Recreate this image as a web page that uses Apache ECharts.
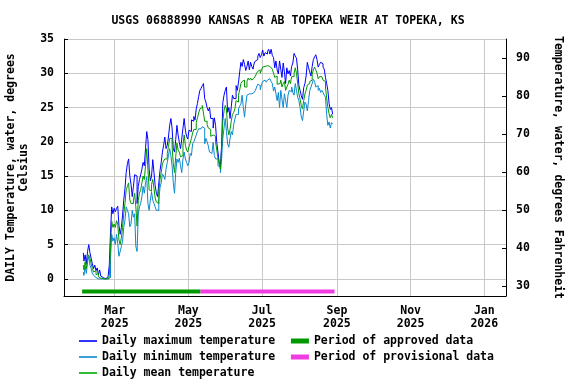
<!DOCTYPE html>
<html><head><meta charset="utf-8">
<script src="https://cdn.jsdelivr.net/npm/echarts@6/dist/echarts.min.js"></script>
<style>html,body{margin:0;padding:0;background:#fff}#c{width:576px;height:384px}</style>
</head><body><div id="c"></div>
<script>
var titleText = 'USGS 06888990 KANSAS R AB TOPEKA WEIR AT TOPEKA, KS';
var firstDay = '2025-02-03';
var maxTemp = [3.8,2.6,3.5,2.2,4.0,5.0,3.8,3.0,2.2,1.5,2.0,1.2,1.6,0.6,1.3,0.4,0.2,0.1,0.1,0.0,0.1,0.3,2.0,6.7,10.5,9.5,10.3,9.8,10.3,10.6,
7.8,6.5,7.5,9.3,11.5,13.2,15.5,16.8,17.5,15.0,13.8,12.0,13.5,15.2,15.0,11.0,13.5,14.5,15.2,16.0,17.0,16.5,19.0,21.5,20.3,16.0,14.3,15.0,17.4,15.5,
13.6,12.5,12.0,14.0,15.8,17.0,18.5,19.5,20.7,19.0,19.5,20.7,22.4,23.4,22.0,19.0,18.5,20.3,22.4,21.0,19.9,19.0,20.4,22.0,23.4,21.7,20.8,20.4,21.7,21.5,
23.2,23.0,23.7,23.2,24.8,25.6,26.6,27.5,27.8,28.2,28.5,26.3,25.8,25.0,24.5,25.0,23.4,23.4,22.0,23.5,22.4,19.9,18.5,17.0,16.5,19.4,25.7,26.8,27.5,28.0,
24.3,25.0,23.4,25.1,26.8,26.3,26.3,28.2,27.5,28.7,30.2,31.6,31.0,32.0,31.3,30.4,31.0,31.8,30.5,31.6,31.0,30.6,31.5,31.8,32.0,32.5,32.9,32.3,32.7,33.4,
32.5,33.0,32.8,33.2,33.5,32.8,33.5,32.6,32.3,30.8,31.8,30.5,29.9,31.8,30.6,29.4,31.5,30.2,28.5,30.8,29.9,30.4,29.6,31.0,31.5,32.9,32.5,32.2,30.5,28.2,
27.5,26.7,26.2,27.9,28.5,29.6,31.6,30.8,30.2,29.6,31.0,32.0,32.4,32.7,32.0,30.9,31.3,31.6,31.4,30.9,30.6,29.4,28.5,27.5,25.6,24.7,25.0,24.0];
var minTemp = [1.0,0.5,1.8,0.8,2.5,3.2,2.0,1.5,0.8,0.5,0.6,0.2,0.3,0.0,0.0,0.0,0.0,0.0,0.0,0.0,0.0,0.0,0.2,3.0,6.5,5.5,6.0,5.0,6.5,5.2,
3.3,3.2,4.7,5.5,7.5,8.6,10.5,10.0,9.5,7.6,8.0,10.0,9.0,9.5,4.7,4.0,9.5,10.5,11.0,12.0,13.5,12.5,14.0,14.9,11.0,10.0,11.5,12.7,11.5,11.0,
10.5,10.0,10.0,11.5,13.3,14.0,15.3,15.0,14.5,16.0,17.0,18.0,19.0,18.0,16.5,14.0,12.5,15.5,17.5,17.0,17.6,16.5,15.5,17.5,18.5,17.5,17.0,16.5,17.0,18.3,
18.0,19.7,20.0,20.5,21.0,21.5,21.9,21.9,22.0,22.2,22.0,19.7,20.5,20.0,19.4,18.5,18.3,18.5,19.9,18.0,17.5,17.5,16.5,16.3,15.5,17.5,20.5,22.0,23.4,21.5,
19.7,19.2,20.5,21.5,21.0,22.5,23.3,24.0,24.0,24.8,25.2,25.5,26.8,25.0,23.6,25.5,26.8,27.0,26.8,27.0,26.9,27.2,27.0,27.5,28.0,28.4,28.2,27.6,28.3,28.8,
29.0,29.1,28.7,29.0,29.2,29.0,28.8,28.5,27.4,28.0,27.0,26.0,27.2,25.0,27.5,26.2,25.0,27.0,26.0,25.0,26.8,27.5,27.3,28.0,27.2,26.8,28.5,27.5,26.5,26.0,
25.0,23.6,23.1,24.5,25.8,25.5,24.5,26.0,27.5,28.0,28.5,29.1,28.8,28.0,28.2,27.5,27.8,27.2,27.5,27.2,26.8,26.5,24.0,22.4,22.9,22.0,22.8,22.6];
var meanTemp = [2.0,1.3,2.5,1.5,3.0,3.5,3.0,2.2,1.5,1.0,1.2,0.6,0.8,0.3,0.4,0.1,0.0,0.0,0.0,0.0,0.0,0.0,0.5,4.5,8.4,7.5,8.0,7.5,8.5,8.0,
5.7,5.0,6.0,7.5,9.5,11.0,13.0,13.5,14.0,11.5,11.0,11.0,11.5,12.5,10.5,7.7,11.5,12.5,13.0,14.0,15.0,14.5,16.5,19.0,16.0,13.0,12.8,13.8,14.5,13.2,
11.8,11.2,11.0,12.8,14.5,15.5,16.8,17.2,17.5,17.5,18.3,19.3,20.5,20.5,19.3,16.8,15.5,17.8,19.8,18.8,18.5,17.8,18.0,19.5,21.0,19.5,18.8,18.5,19.3,19.8,
20.5,21.3,21.8,21.8,22.8,23.5,24.2,24.8,25.0,25.3,25.2,23.0,23.0,22.5,22.0,21.8,20.8,21.0,21.0,20.8,20.0,18.8,17.6,16.8,16.0,19.0,23.0,24.5,25.3,24.8,
22.0,21.0,21.8,23.0,24.0,24.3,24.8,26.0,25.8,26.8,27.6,28.5,28.8,29.0,28.0,28.0,28.8,29.3,29.0,29.3,29.0,28.9,29.3,29.6,30.0,30.3,30.5,30.0,30.4,30.9,
30.8,31.0,30.9,31.1,31.2,31.0,31.1,30.6,30.0,29.4,29.6,28.4,28.5,28.5,29.0,28.0,28.5,28.8,27.5,28.0,28.4,29.0,28.5,29.5,29.5,30.0,30.8,30.0,28.5,27.0,
26.2,25.3,24.8,26.0,27.0,27.5,28.3,28.5,28.8,29.0,29.8,30.5,30.9,30.5,30.0,29.2,29.5,29.4,29.5,29.0,28.8,28.0,26.4,25.0,24.1,23.5,24.0,23.5];
var approvedPeriod = ['2025-02-02', '2025-05-11'];
var provisionalPeriod = ['2025-05-11', '2025-08-30'];
var periodLevel = -1.85;
var xTickDates = ['2025-03-01','2025-05-01','2025-07-01','2025-09-01','2025-11-01','2026-01-01'];
var yTicksC = [0,5,10,15,20,25,30,35];
var yTicksF = [30,40,50,60,70,80,90];
var monthNames = ['Jan','Feb','Mar','Apr','May','Jun','Jul','Aug','Sep','Oct','Nov','Dec'];
var lineNames = ['Daily maximum temperature','Daily minimum temperature','Daily mean temperature'];
var periodNames = ['Period of approved data','Period of provisional data'];

function pad(n){return (n<10?'0':'')+n;}
function dayList(start, n){
  var p = start.split('-'); var out = [];
  for (var i=0;i<n;i++){
    var d = new Date(Date.UTC(+p[0], +p[1]-1, +p[2]+i));
    out.push(d.getUTCFullYear()+'-'+pad(d.getUTCMonth()+1)+'-'+pad(d.getUTCDate()));
  }
  return out;
}
function ts(s){var p=s.split('-');return Date.UTC(+p[0],+p[1]-1,+p[2]);}
var dates = dayList(firstDay, maxTemp.length);
function pairs(vals){return vals.map(function(v,i){return [ts(dates[i]), v];});}

var FONT = 'DejaVu Sans Mono';
var lab = {fontFamily: FONT, fontWeight: 'bold', fontSize: 11.5, color: '#000'};
var chart = echarts.init(document.getElementById('c'), null, {renderer:'canvas'});
chart.setOption({
  animation: false,
  backgroundColor: '#fff',
  title: {text: titleText, left: 'center', top: 10, textStyle: {fontFamily: FONT, fontWeight: 'bold', fontSize: 11.5, color: '#000'}},
  grid: {left: 64, right: 70, top: 39, bottom: 88, containLabel: false, outerBoundsMode: 'none'},
  xAxis: {
    type: 'value', min: ts('2025-01-18'), max: ts('2026-01-19'),
    axisLine: {show: true, onZero: false, lineStyle: {color: '#000', width: 1}},
    axisTick: {show: false, customValues: xTickDates.map(ts)},
    axisLabel: Object.assign({customValues: xTickDates.map(ts), margin: 9, lineHeight: 13,
      formatter: function(v){var d=new Date(v);return monthNames[d.getUTCMonth()]+'\n'+d.getUTCFullYear();}}, lab),
    splitLine: {show: true, lineStyle: {color: '#c8c8c8', width: 1}}
  },
  yAxis: [{
    type: 'value', min: -2.5, max: 35, position: 'left',
    name: 'DAILY Temperature, water, degrees\nCelsius', nameLocation: 'middle', nameGap: 33, nameRotate: 90, nameMoveOverlap: false,
    nameTextStyle: Object.assign({lineHeight: 13}, lab),
    axisLine: {show: true, lineStyle: {color: '#000'}},
    axisTick: {show: true, inside: true, length: 4, customValues: yTicksC, lineStyle: {color: '#000'}},
    axisLabel: Object.assign({customValues: yTicksC, margin: 10}, lab),
    splitLine: {show: true, lineStyle: {color: '#c8c8c8', width: 1}}
  }, {
    type: 'value', min: -2.5*9/5+32, max: 35*9/5+32, position: 'right',
    name: 'Temperature, water, degrees Fahrenheit', nameLocation: 'middle', nameGap: 46, nameRotate: -90,
    nameTextStyle: lab,
    axisLine: {show: true, lineStyle: {color: '#000'}},
    axisTick: {show: true, inside: true, length: 4, customValues: yTicksF, lineStyle: {color: '#000'}},
    axisLabel: Object.assign({customValues: yTicksF, margin: 10}, lab),
    splitLine: {show: false}
  }],
  legend: {
    orient: 'vertical', left: 79, top: 334, height: 50, padding: 0, itemWidth: 18, itemHeight: 10, itemGap: 2,
    textStyle: Object.assign({lineHeight: 14}, lab),
    formatter: function(name){ return lineNames.indexOf(name) >= 0 ? name + '  ' : name; },
    data: lineNames.map(function(n){return {name: n, icon: 'path://M0,0h18v1.6h-18z'};})
      .concat(periodNames.map(function(n){return {name: n, icon: 'path://M0,0h18v5h-18z'};}))
  },
  series: [
    {name: lineNames[0], type: 'line', step: 'middle', symbol: 'none', data: pairs(maxTemp), lineStyle: {color: '#0000ff', width: 1}, itemStyle: {color: '#0000ff'}, z: 4},
    {name: lineNames[1], type: 'line', step: 'middle', symbol: 'none', data: pairs(minTemp), lineStyle: {color: '#0a88d0', width: 1}, itemStyle: {color: '#0a88d0'}, z: 3},
    {name: lineNames[2], type: 'line', step: 'middle', symbol: 'none', data: pairs(meanTemp), lineStyle: {color: '#009900', width: 1}, itemStyle: {color: '#00aa00'}, z: 5},
    {name: periodNames[0], type: 'line', symbol: 'none', data: approvedPeriod.map(function(d){return [ts(d), periodLevel];}), lineStyle: {color: '#009900', width: 4, cap: 'butt'}, itemStyle: {color: '#009900'}, z: 6},
    {name: periodNames[1], type: 'line', symbol: 'none', data: provisionalPeriod.map(function(d){return [ts(d), periodLevel];}), lineStyle: {color: '#f03ce0', width: 4, cap: 'butt'}, itemStyle: {color: '#f03ce0'}, z: 6}
  ]
});
</script></body></html>
